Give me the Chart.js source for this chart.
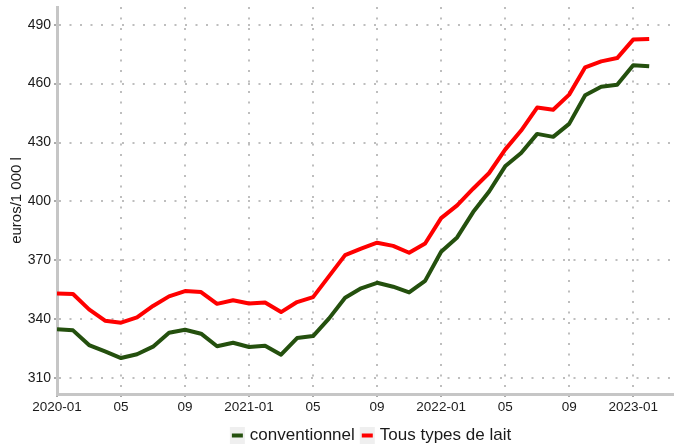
<!DOCTYPE html>
<html>
<head>
<meta charset="utf-8">
<script src="https://cdn.jsdelivr.net/npm/chart.js@4"></script>
<style>
html,body{margin:0;padding:0;background:#fff;}
#wrap{width:674px;height:447px;position:relative;}
</style>
</head>
<body>
<div id="wrap"><canvas id="c" width="674" height="447"></canvas></div>
<script>
const months = ["2020-01","2020-02","2020-03","2020-04","2020-05","2020-06","2020-07","2020-08","2020-09","2020-10","2020-11","2020-12",
"2021-01","2021-02","2021-03","2021-04","2021-05","2021-06","2021-07","2021-08","2021-09","2021-10","2021-11","2021-12",
"2022-01","2022-02","2022-03","2022-04","2022-05","2022-06","2022-07","2022-08","2022-09","2022-10","2022-11","2022-12",
"2023-01","2023-02"];
const conventionnel = [334.9,334.4,326.9,323.7,320.3,322.2,326.1,333.2,334.7,332.7,326.3,328.1,
325.9,326.6,322.0,330.5,331.5,340.5,351.0,355.8,358.6,356.6,353.7,359.6,
374.4,381.7,394.6,405.1,417.9,424.7,434.4,432.9,439.5,454.1,458.4,459.4,
469.4,468.9];
const tousTypes = [353.2,352.9,345.1,339.3,338.3,341.0,346.8,351.7,354.4,353.9,347.9,349.7,
348.1,348.6,343.7,348.8,351.3,362.0,372.7,376.0,379.0,377.4,373.9,378.6,
391.5,398.0,406.5,414.5,426.4,436.1,447.8,446.7,454.4,468.3,471.3,473.0,
482.4,482.7];
const xTickPositions = [0,4,8,12,16,20,24,28,32,36];
const xTickLabels = ["2020-01","05","09","2021-01","05","09","2022-01","05","09","2023-01"];
const yTicks = [310,340,370,400,430,460,490];
const seriesNames = ["conventionnel","Tous types de lait"];
const seriesColors = ["#24500e","#ff0000"];

const FONT = "'Liberation Sans', Arial, sans-serif";

function toPoints(arr){ return arr.map((v,i)=>({x:i,y:v})); }

const legendPlugin = {
  id:'customLegend',
  afterDraw(chart){
    const ctx = chart.ctx;
    const ca = chart.chartArea;
    ctx.save();
    ctx.font = "17px " + FONT;
    const boxW = 15, boxH = 17, gapText = 5, gapItem = 5;
    const ds = chart.data.datasets;
    let total = 0;
    const widths = ds.map(d => ctx.measureText(d.label).width);
    widths.forEach((w,i)=>{ total += boxW + gapText + w + (i<ds.length-1?gapItem:0); });
    let x = (ca.left + ca.right)/2 - total/2 + 5;
    const cy = 435.5;
    ds.forEach((d,i)=>{
      ctx.fillStyle = '#efefef';
      ctx.fillRect(x, cy - boxH/2, boxW, boxH);
      ctx.strokeStyle = d.borderColor;
      ctx.lineWidth = 4;
      ctx.beginPath();
      ctx.moveTo(x+2, cy);
      ctx.lineTo(x+boxW-2, cy);
      ctx.stroke();
      ctx.fillStyle = '#1a1a1a';
      ctx.textBaseline = 'middle';
      ctx.textAlign = 'left';
      ctx.fillText(d.label, x + boxW + gapText, cy);
      x += boxW + gapText + widths[i] + gapItem;
    });
    ctx.restore();
  }
};

new Chart(document.getElementById('c'), {
  type:'line',
  data:{
    datasets:[
      {label:seriesNames[0], data:toPoints(conventionnel), borderColor:seriesColors[0], backgroundColor:seriesColors[0], borderWidth:4, pointRadius:0, tension:0, borderJoinStyle:'round'},
      {label:seriesNames[1], data:toPoints(tousTypes), borderColor:seriesColors[1], backgroundColor:seriesColors[1], borderWidth:4, pointRadius:0, tension:0, borderJoinStyle:'round'}
    ]
  },
  options:{
    responsive:false,
    animation:false,
    layout:{padding:{top:7,right:0,bottom:25,left:0}},
    plugins:{legend:{display:false}, tooltip:{enabled:false}},
    scales:{
      x:{
        type:'linear', min:0, max:38.55,
        afterBuildTicks(s){ s.ticks = xTickPositions.map(v=>({value:v})); },
        afterFit(s){ s.height = 28; },
        ticks:{
          autoSkip:false, maxRotation:0, padding:2,
          color:'#1a1a1a', font:{family:FONT,size:13.5},
          callback(v){ const i = xTickPositions.indexOf(v); return i>=0 ? xTickLabels[i] : ''; }
        },
        grid:{color:'#bebebe', lineWidth:2, drawTicks:true, tickLength:3, tickColor:'#555', tickWidth:1},
        border:{color:'#c6c6c6', width:3, dash:[2,8.5]}
      },
      y:{
        type:'linear', min:302, max:499,
        afterBuildTicks(s){ s.ticks = yTicks.map(v=>({value:v})); },
        afterFit(s){ s.width = 57; s.paddingTop = 0; s.paddingBottom = 0; },
        ticks:{color:'#1a1a1a', font:{family:FONT,size:14}, padding:3},
        grid:{color:'#bebebe', lineWidth:2, drawTicks:true, tickLength:3, tickColor:'#555', tickWidth:1},
        border:{color:'#c6c6c6', width:3, dash:[2,8.5]},
        title:{display:true, text:'euros/1 000 l', color:'#1a1a1a', font:{family:FONT,size:15}, padding:{top:8,bottom:2}}
      }
    }
  },
  plugins:[legendPlugin]
});
</script>
</body>
</html>
